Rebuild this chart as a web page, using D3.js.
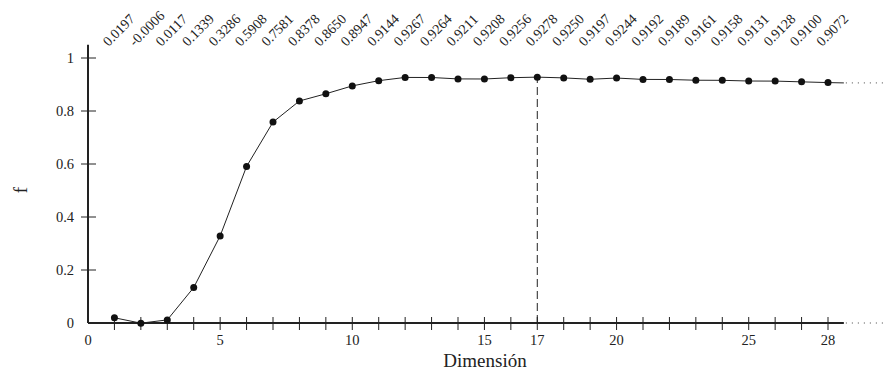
<!DOCTYPE html>
<html>
<head>
<meta charset="utf-8">
<script src="https://cdn.jsdelivr.net/npm/d3@7"></script>
<style>
  body { margin: 0; background: #fff; }
  svg { display: block; }
  text { font-family: "Liberation Serif", "DejaVu Serif", serif; fill: #222; }
</style>
</head>
<body>
<svg id="chart" width="893" height="377"></svg>
<script>
const dims = d3.range(1, 29);
const fValues = [0.0197, -0.0006, 0.0117, 0.1339, 0.3286, 0.5908, 0.7581, 0.8378, 0.8650, 0.8947,
  0.9144, 0.9267, 0.9264, 0.9211, 0.9208, 0.9256, 0.9278, 0.9250, 0.9197, 0.9244,
  0.9192, 0.9189, 0.9161, 0.9158, 0.9131, 0.9128, 0.9100, 0.9072];
const xTickLabels = [0, 5, 10, 15, 17, 20, 25, 28];
const yTickLabels = [0, 0.2, 0.4, 0.6, 0.8, 1];
const bestDim = 17;
// continuation of the curve / axis beyond the last point
const tailValue = 0.9060;
const tailEnd = 28.6;
const dotsEnd = 30.2;

const svg = d3.select('#chart');
const x = d3.scaleLinear().domain([0, 28]).range([88, 828]);
const y = d3.scaleLinear().domain([0, 1]).range([323, 58]);

const data = dims.map((d, i) => ({ d, v: fValues[i] }));

// axes
const g = svg.append('g');
g.append('line')
  .attr('x1', x(0)).attr('x2', x(tailEnd))
  .attr('y1', y(0)).attr('y2', y(0))
  .attr('stroke', '#222').attr('stroke-width', 2);
g.append('line')
  .attr('x1', x(tailEnd) + 2).attr('x2', x(dotsEnd))
  .attr('y1', y(0)).attr('y2', y(0))
  .attr('stroke', '#444').attr('stroke-width', 1).attr('stroke-dasharray', '1,5');
g.append('line')
  .attr('x1', x(0)).attr('x2', x(0))
  .attr('y1', y(0)).attr('y2', y(1.05))
  .attr('stroke', '#222').attr('stroke-width', 2);

// x ticks
g.selectAll('.xt').data(dims).enter().append('line')
  .attr('x1', d => x(d)).attr('x2', d => x(d))
  .attr('y1', y(0) - 6).attr('y2', y(0) + 7)
  .attr('stroke', '#222').attr('stroke-width', 1);
g.selectAll('.xl').data(xTickLabels).enter().append('text')
  .attr('x', d => x(d)).attr('y', 345)
  .attr('text-anchor', 'middle').attr('font-size', 14.5)
  .text(d => d);

// y ticks
g.selectAll('.yt').data(yTickLabels.slice(1)).enter().append('line')
  .attr('x1', x(0) - 7).attr('x2', x(0) + 8)
  .attr('y1', d => y(d)).attr('y2', d => y(d))
  .attr('stroke', '#222').attr('stroke-width', 1);
g.selectAll('.yl').data(yTickLabels).enter().append('text')
  .attr('x', 74).attr('y', d => y(d) + 5)
  .attr('text-anchor', 'end').attr('font-size', 14.5)
  .text(d => d);

// axis titles
svg.append('text').attr('x', 485).attr('y', 367)
  .attr('text-anchor', 'middle').attr('font-size', 19).text('Dimensión');
svg.append('text').attr('transform', `translate(27,190) rotate(-90)`)
  .attr('text-anchor', 'middle').attr('font-size', 19).text('f');

// dashed marker at best dimension
svg.append('line')
  .attr('x1', x(bestDim)).attr('x2', x(bestDim))
  .attr('y1', y(0)).attr('y2', y(fValues[bestDim - 1]))
  .attr('stroke', '#222').attr('stroke-width', 1).attr('stroke-dasharray', '8,4');

// curve
const line = d3.line().x(d => x(d.d)).y(d => y(d.v));
svg.append('path')
  .datum(data.concat([{ d: tailEnd, v: tailValue }]))
  .attr('d', line).attr('fill', 'none')
  .attr('stroke', '#222').attr('stroke-width', 1);
svg.append('line')
  .attr('x1', x(tailEnd) + 2).attr('x2', x(dotsEnd))
  .attr('y1', y(tailValue)).attr('y2', y(tailValue))
  .attr('stroke', '#444').attr('stroke-width', 1).attr('stroke-dasharray', '1,5');

svg.selectAll('.pt').data(data).enter().append('circle')
  .attr('cx', d => x(d.d)).attr('cy', d => y(d.v)).attr('r', 3.5)
  .attr('fill', '#111');

// rotated value labels
svg.selectAll('.vl').data(data).enter().append('text')
  .attr('transform', d => `translate(${x(d.d) - 6},47) rotate(-45)`)
  .attr('font-size', 14)
  .text(d => d.v.toFixed(4));
</script>
</body>
</html>
